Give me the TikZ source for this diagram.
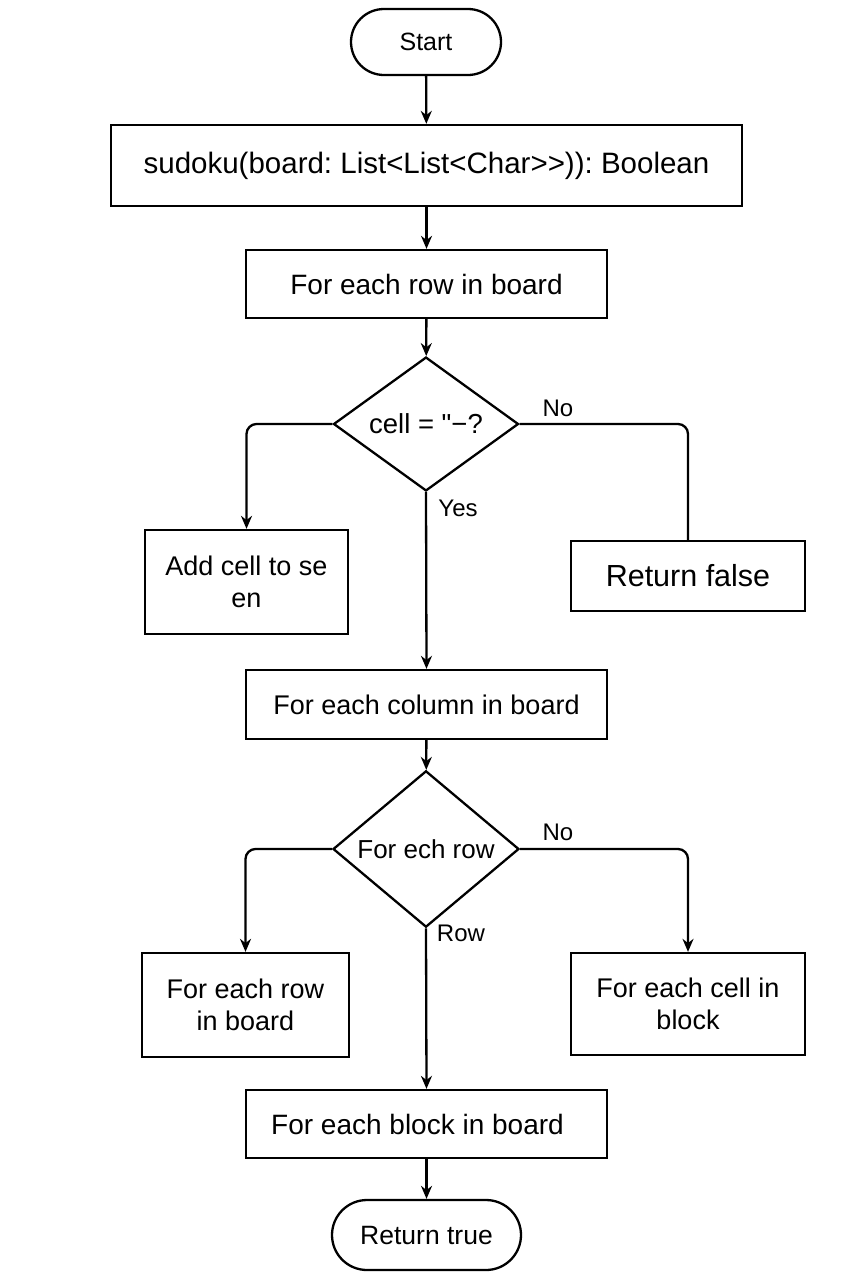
\documentclass[tikz,border=0pt]{standalone}
\usepackage{fontspec}
\setmainfont{Liberation Sans}[Ligatures=TeXOff]
\frenchspacing
\usetikzlibrary{shapes.geometric,arrows.meta}

\begin{document}
\begin{tikzpicture}[x=1pt,y=-1pt,line width=2.3pt,
    box/.style={draw,rectangle,inner sep=0pt,align=center,font=\fontsize{27}{32}\selectfont},
    term/.style={box,rounded corners=33pt},
    test/.style={draw,diamond,inner sep=0pt,font=\fontsize{26}{30}\selectfont},
    lbl/.style={font=\fontsize{24}{28}\selectfont},
    flow/.style={-{Stealth[length=13pt,width=11pt]},rounded corners=10pt}]
    \useasboundingbox (0,0) rectangle (853,1280);

    \node[term,minimum width=150pt,minimum height=66pt,font=\fontsize{25}{30}\selectfont] (start) at (426,42) {Start};
    \node[box,minimum width=631pt,minimum height=81pt,font=\fontsize{29.5}{34}\selectfont] (sig) at (426.5,165.5) {sudoku(board: List<List<Char>>)): Boolean};
    \node[box,minimum width=361pt,minimum height=68pt,font=\fontsize{28}{32}\selectfont] (rowloop) at (426.5,284) {For each row in board};
    \node[test,minimum width=185pt,minimum height=130pt,font=\fontsize{27.5}{32}\selectfont] (cellchk) at (426,424) {cell = "\textminus?};
    \node[box,minimum width=203pt,minimum height=104pt] (addseen) at (246.5,582) {Add cell to se\\en};
    \node[box,minimum width=234pt,minimum height=70pt,font=\fontsize{30.5}{34}\selectfont] (retfalse) at (688,576) {Return false};
    \node[box,minimum width=361pt,minimum height=69pt] (colloop) at (426.5,704.5) {For each column in board};
    \node[test,minimum width=186pt,minimum height=131pt] (rowchk) at (426,849) {For ech row};
    \node[box,minimum width=207pt,minimum height=104pt] (rowbox) at (245.5,1005) {For each row\\in board};
    \node[box,minimum width=234pt,minimum height=102pt] (cellbox) at (688,1004) {For each cell in\\block};
    \node[box,minimum width=361pt,minimum height=68pt,font=\fontsize{28}{32}\selectfont] (blockloop) at (426.5,1124) {For each block in board\hspace*{18pt}};
    \node[term,minimum width=189pt,minimum height=70pt,rounded corners=35pt,font=\fontsize{26.5}{30}\selectfont] (rettrue) at (426.5,1235) {Return true};

    \node[lbl] (no1) at (558,408) {No};
    \node[lbl] (yes) at (458,508) {Yes};
    \node[lbl] (no2) at (558,832) {No};
    \node[lbl] (rowlbl) at (461,933) {Row};

    \draw[flow] (start) -- (sig);
    \draw[flow] (sig) -- (rowloop);
    \draw[flow] (rowloop) -- (cellchk);
    \draw[flow] (cellchk.west) -| (addseen.north);
    \draw[rounded corners=10pt] (cellchk.east) -| (retfalse.north);
    \draw[flow] (cellchk.south) -- (colloop.north);
    \draw[flow] (colloop) -- (rowchk);
    \draw[flow] (rowchk.west) -| (rowbox.north);
    \draw[flow] (rowchk.east) -| (cellbox.north);
    \draw[flow] (rowchk.south) -- (blockloop.north);
    \draw[flow] (blockloop) -- (rettrue);
\end{tikzpicture}
\end{document}
